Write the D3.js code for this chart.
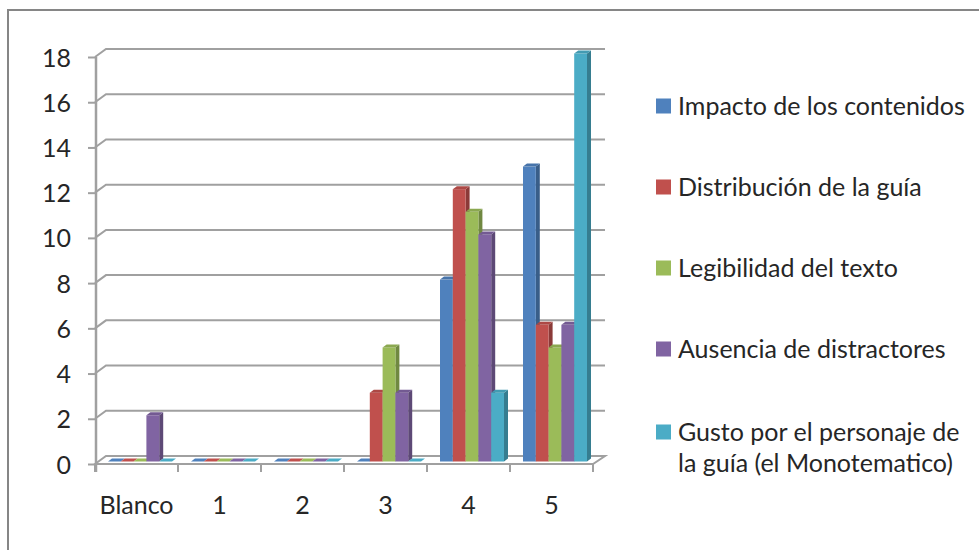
<!DOCTYPE html>
<html>
<head>
<meta charset="utf-8">
<script src="https://cdn.jsdelivr.net/npm/d3@7"></script>
<style>
  html, body { margin: 0; padding: 0; background: #fff; }
  svg { display: block; }
  text { font-family: Lato, "Open Sans", sans-serif; fill: #262626; }
</style>
</head>
<body>
<svg id="chart" width="979" height="550"></svg>
<script>
const categories = ["Blanco", "1", "2", "3", "4", "5"];
const seriesNames = [
  "Impacto de los contenidos",
  "Distribución de la guía",
  "Legibilidad del texto",
  "Ausencia de distractores",
  "Gusto por el personaje de la guía (el Monotematico)"
];
const impacto      = [0, 0, 0, 0, 8, 13];
const distribucion = [0, 0, 0, 3, 12, 6];
const legibilidad  = [0, 0, 0, 5, 11, 5];
const ausencia     = [2, 0, 0, 3, 10, 6];
const gusto        = [0, 0, 0, 0, 3, 18];
const yTicks = [0, 2, 4, 6, 8, 10, 12, 14, 16, 18];
const legendLines = [
  ["Impacto de los contenidos"],
  ["Distribución de la guía"],
  ["Legibilidad del texto"],
  ["Ausencia de distractores"],
  ["Gusto por el personaje de", "la guía (el Monotematico)"]
];
const colors = ["#4F81BD", "#C0504D", "#9BBB59", "#8064A2", "#4BACC6"];

const seriesValues = [impacto, distribucion, legibilidad, ausencia, gusto];

const svg = d3.select("#chart");

// outer frame
svg.append("rect").attr("x", 8).attr("y", 10).attr("width", 1000).attr("height", 600)
  .attr("fill", "none").attr("stroke", "#868686").attr("stroke-width", 2);

const x0 = 95, x1 = 593, yBottom = 464, yTop = 57;
const wallDx = 11, wallDy = -8;
const gridColor = "#a0a0a0";
const fontSize = "25px";

const y = d3.scaleLinear().domain([0, 18]).range([yBottom, yTop]);
const x = d3.scaleBand().domain(categories).range([x0, x1]).padding(0);
const groupW = 64;
const xs = d3.scaleBand().domain(d3.range(seriesNames.length)).range([0, groupW]).padding(0);

// back wall gridlines with diagonal connectors
const grid = svg.append("g");
yTicks.forEach(t => {
  if (t === 0) return;
  const yy = y(t);
  grid.append("path")
    .attr("d", `M${x0},${yy} L${x0 + wallDx},${yy + wallDy} L${x1 + wallDx + 1},${yy + wallDy}`)
    .attr("fill", "none").attr("stroke", gridColor).attr("stroke-width", 2);
});

// floor
grid.append("path")
  .attr("d", `M${x0},${yBottom} L${x0 + wallDx},${yBottom + wallDy} L${x1 + wallDx + 1},${yBottom + wallDy} L${x1},${yBottom} Z`)
  .attr("fill", "#fff").attr("stroke", gridColor).attr("stroke-width", 2);

// y axis
const yAxis = d3.axisLeft(y).tickValues(yTicks).tickSize(8).tickPadding(17).tickFormat(d3.format("d"));
const gy = svg.append("g").attr("transform", `translate(${x0 + 1},0)`).call(yAxis);
gy.select(".domain").attr("stroke", gridColor).attr("stroke-width", 2.5).attr("d", `M0,${yTop} V${yBottom + 8}`);
gy.selectAll(".tick line").attr("stroke", gridColor).attr("stroke-width", 2);
gy.selectAll(".tick text").style("font-size", fontSize).attr("fill", "#262626").attr("dy", "0.36em");

// x axis
const xAxis = d3.axisBottom(x).tickSize(0).tickPadding(33);
const gx = svg.append("g").attr("transform", `translate(0,${yBottom})`).call(xAxis);
gx.select(".domain").attr("stroke", gridColor).attr("stroke-width", 2).attr("d", `M${x0},0 H${x1}`);
gx.selectAll(".tick text").style("font-size", fontSize).attr("fill", "#262626").attr("dy", "0.68em");
// category boundary ticks
const bounds = categories.map(c => x(c)).concat([x1]);
gx.selectAll(".bound").data(bounds).enter().append("line")
  .attr("x1", d => d).attr("x2", d => d).attr("y1", 0).attr("y2", 8)
  .attr("stroke", gridColor).attr("stroke-width", 2);

// bars
const sx = 3.5, sy = -2.5; // placement within depth
const bdx = 4, bdy = -3;   // bar depth
const bars = svg.append("g");
categories.forEach((c, ci) => {
  const gx0 = x(c) + (x.bandwidth() - groupW) / 2 + sx;
  seriesValues.forEach((vals, si) => {
    const v = vals[ci];
    const bx = gx0 + xs(si);
    const bw = xs.bandwidth();
    const top = y(v) + sy - (v > 0 ? 1 : 0);
    const bot = y(0) + sy;
    const col = d3.color(colors[si]);
    const g = bars.append("g");
    // side
    g.append("path")
      .attr("d", `M${bx + bw},${top} L${bx + bw + bdx},${top + bdy} L${bx + bw + bdx},${bot + bdy} L${bx + bw},${bot} Z`)
      .attr("fill", col.darker(0.9));
    // front
    g.append("rect").attr("x", bx).attr("y", top).attr("width", bw).attr("height", Math.max(0, bot - top))
      .attr("fill", colors[si]);
    // top
    g.append("path")
      .attr("d", `M${bx},${top} L${bx + bdx},${top + bdy} L${bx + bw + bdx},${top + bdy} L${bx + bw},${top} Z`)
      .attr("fill", v === 0 ? colors[si] : col.darker(0.3));
  });
});

// legend
const leg = svg.append("g");
const legY = [106, 187, 268, 349, 432];
legendLines.forEach((lines, i) => {
  leg.append("rect").attr("x", 656).attr("y", legY[i] - 7.5).attr("width", 15).attr("height", 15)
    .attr("fill", colors[i]);
  const t = leg.append("text").attr("x", 678).attr("y", legY[i])
    .style("font-size", fontSize);
  lines.forEach((ln, li) => {
    t.append("tspan").attr("x", 678).attr("dy", li === 0 ? "0.35em" : "1.25em").text(ln);
  });
});
</script>
</body>
</html>
